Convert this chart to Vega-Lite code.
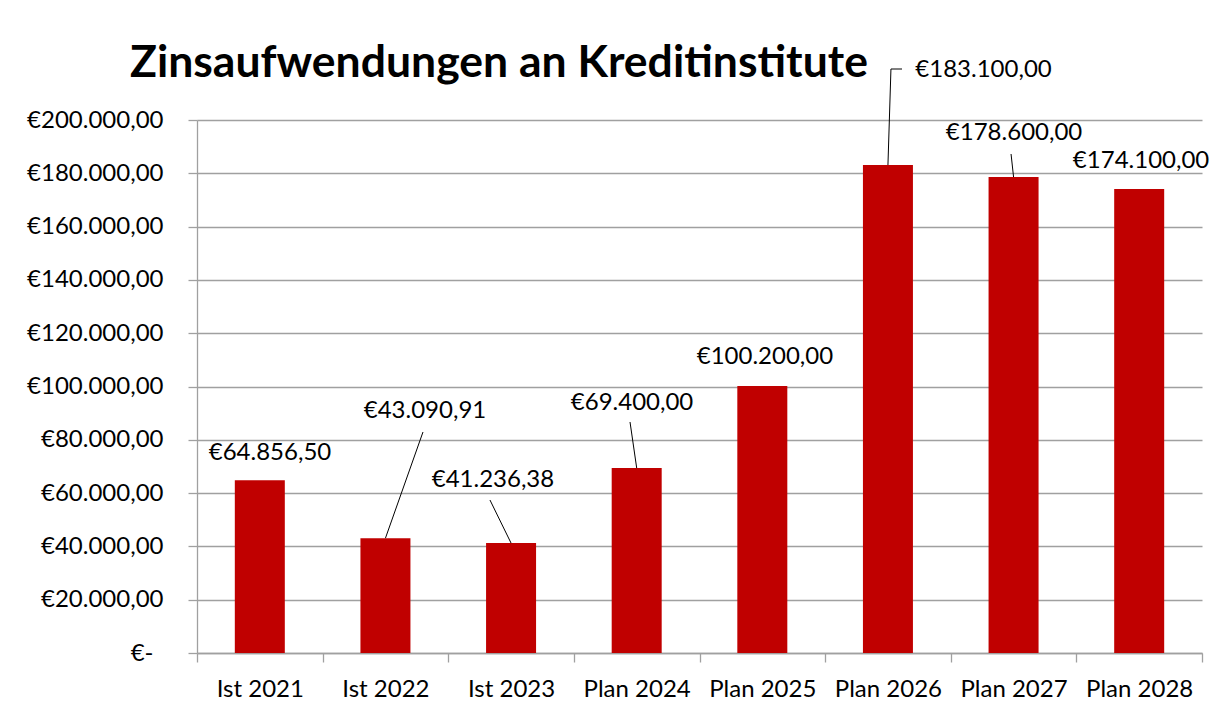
{
  "$schema": "https://vega.github.io/schema/vega-lite/v6.json",
  "width": 1005,
  "height": 533,
  "autosize": {"type": "none"},
  "padding": {"left": 197, "top": 120, "right": 29, "bottom": 62},
  "background": "white",
  "config": {
    "locale": {"number": {"decimal": ",", "thousands": ".", "grouping": [3], "currency": ["€", ""]}},
    "font": "Lato",
    "view": {"stroke": null},
    "axis": {
      "title": null,
      "labelFont": "Lato",
      "labelFontSize": 24,
      "labelColor": "black",
      "domainColor": "#a0a0a0",
      "domainWidth": 1.3,
      "tickColor": "#a0a0a0",
      "tickWidth": 1.3,
      "tickSize": 9,
      "gridColor": "#a0a0a0",
      "gridWidth": 1.3
    }
  },
  "title": {
    "text": "Zinsaufwendungen an Kreditinstitute",
    "font": "Lato",
    "fontSize": 44.5,
    "fontWeight": "bold",
    "color": "black",
    "anchor": "start",
    "frame": "group",
    "dx": -67,
    "offset": -29
  },
  "datasets": {
    "bars": [
      {"cat": "Ist 2021", "slot": 0, "value": 64856.50},
      {"cat": "Ist 2022", "slot": 1, "value": 43090.91},
      {"cat": "Ist 2023", "slot": 2, "value": 41236.38},
      {"cat": "Plan 2024", "slot": 3, "value": 69400},
      {"cat": "Plan 2025", "slot": 4, "value": 100200},
      {"cat": "Plan 2026", "slot": 5, "value": 183100},
      {"cat": "Plan 2027", "slot": 6, "value": 178600},
      {"cat": "Plan 2028", "slot": 7, "value": 174100}
    ],
    "labels": [
      {"cat": "Ist 2021", "slot": 0.081, "at": 75047, "value": 64856.50},
      {"cat": "Ist 2022", "slot": 1.315, "at": 90807, "value": 43090.91},
      {"cat": "Ist 2023", "slot": 1.856, "at": 64916, "value": 41236.38},
      {"cat": "Plan 2024", "slot": 2.963, "at": 93809, "value": 69400},
      {"cat": "Plan 2025", "slot": 4.021, "at": 111069, "value": 100200},
      {"cat": "Plan 2026", "slot": 5.761, "at": 218762, "value": 183100},
      {"cat": "Plan 2027", "slot": 6.004, "at": 195122, "value": 178600},
      {"cat": "Plan 2028", "slot": 7.015, "at": 184428, "value": 174100}
    ],
    "leaders": [
      {"cat": "Ist 2022", "step": 0, "slot": 1, "at": 43090.91},
      {"cat": "Ist 2022", "step": 1, "slot": 1.299, "at": 82927},
      {"cat": "Ist 2023", "step": 0, "slot": 2, "at": 41236.38},
      {"cat": "Ist 2023", "step": 1, "slot": 1.832, "at": 57411},
      {"cat": "Plan 2024", "step": 0, "slot": 3, "at": 69400},
      {"cat": "Plan 2024", "step": 1, "slot": 2.947, "at": 86679},
      {"cat": "Plan 2026", "step": 0, "slot": 5, "at": 183100},
      {"cat": "Plan 2026", "step": 1, "slot": 5.024, "at": 219137},
      {"cat": "Plan 2026", "step": 2, "slot": 5.112, "at": 219137},
      {"cat": "Plan 2027", "step": 0, "slot": 6, "at": 178600},
      {"cat": "Plan 2027", "step": 1, "slot": 5.98, "at": 187242}
    ]
  },
  "layer": [
    {
      "data": {"name": "bars"},
      "mark": {"type": "bar", "orient": "vertical", "size": 50, "color": "#C00000"},
      "encoding": {
        "x": {
          "field": "slot",
          "type": "quantitative",
          "scale": {"domain": [-0.5, 7.5], "nice": false, "zero": false, "padding": 0},
          "axis": {
            "grid": false,
            "values": [-0.5, 0.5, 1.5, 2.5, 3.5, 4.5, 5.5, 6.5, 7.5],
            "labelPadding": 15,
            "labelOffset": 62.8,
            "labelFlush": false,
            "labelOverlap": false,
            "labelBound": false,
            "labelExpr": "datum.value > 7 ? '' : ['Ist 2021','Ist 2022','Ist 2023','Plan 2024','Plan 2025','Plan 2026','Plan 2027','Plan 2028'][datum.value + 0.5]"
          }
        },
        "y": {
          "field": "value",
          "type": "quantitative",
          "stack": null,
          "scale": {"domain": [0, 200000], "nice": false},
          "axis": {
            "grid": true,
            "values": [0, 20000, 40000, 60000, 80000, 100000, 120000, 140000, 160000, 180000, 200000],
            "format": "$,.2f",
            "labelPadding": {"condition": {"test": "datum.value === 0", "value": 35}, "value": 25},
            "labelExpr": "datum.value === 0 ? '€-' : datum.label"
          }
        }
      }
    },
    {
      "data": {"name": "leaders"},
      "mark": {"type": "line", "color": "black", "strokeWidth": 1},
      "encoding": {
        "x": {"field": "slot", "type": "quantitative"},
        "y": {"field": "at", "type": "quantitative"},
        "detail": {"field": "cat"},
        "order": {"field": "step"}
      }
    },
    {
      "data": {"name": "labels"},
      "mark": {"type": "text", "font": "Lato", "fontSize": 24, "color": "black", "baseline": "middle", "align": "center"},
      "encoding": {
        "x": {"field": "slot", "type": "quantitative"},
        "y": {"field": "at", "type": "quantitative"},
        "text": {"field": "value", "type": "quantitative", "format": "$,.2f"}
      }
    }
  ]
}
